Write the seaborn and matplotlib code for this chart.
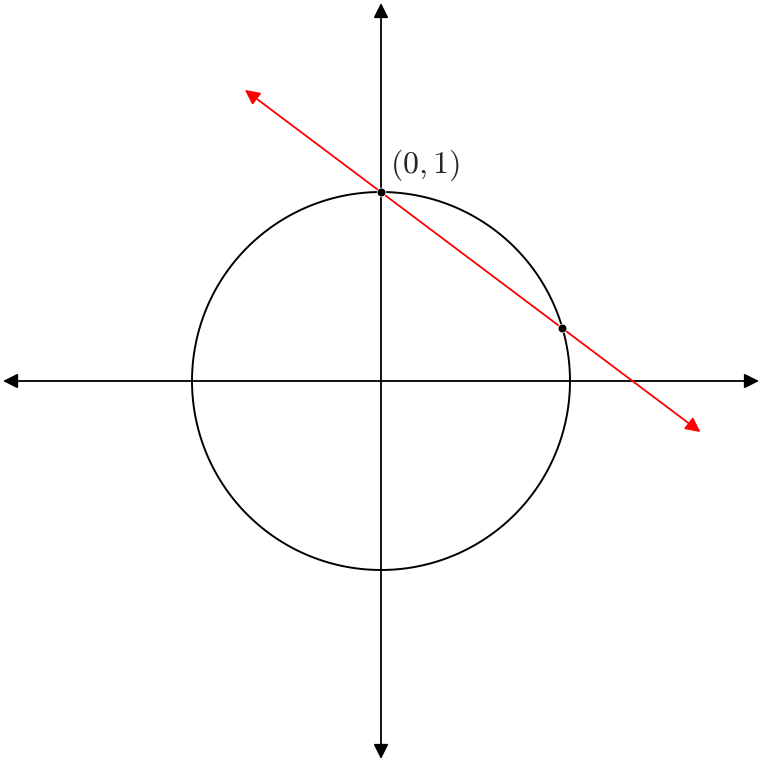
import numpy as np
import pandas as pd
import matplotlib.pyplot as plt
import seaborn as sns

# data (unit circle, secant line through (0,1) with slope -3/4)
point_x = [0.0, 0.96]
point_y = [1.0, 0.28]
line_x = [-0.72, 1.69]
line_y = [1.54, -0.27]
radius = 1.0
axis_extent = 2.0

sns.set_theme(style="white")
plt.rcParams["mathtext.fontset"] = "cm"

fig = plt.figure(figsize=(7.64, 7.64), dpi=100)
ax = fig.add_axes([0, 0, 1, 1])
scale = 189.0
ax.set_xlim(-381 / scale, (764 - 381) / scale)
ax.set_ylim(-(764 - 381) / scale, 381 / scale)
ax.set_aspect("equal")
ax.axis("off")

# axes arrows
head = dict(arrowstyle="<|-|>", color="black", lw=1.3, mutation_scale=22,
            shrinkA=0, shrinkB=0)
ax.annotate("", xy=(axis_extent, 0), xytext=(-axis_extent, 0), arrowprops=head)
ax.annotate("", xy=(0, axis_extent), xytext=(0, -axis_extent), arrowprops=head)

# circle
t = np.linspace(0, 2 * np.pi, 400)
circle = pd.DataFrame({"x": radius * np.cos(t), "y": radius * np.sin(t)})
sns.lineplot(data=circle, x="x", y="y", sort=False, estimator=None,
             color="black", lw=1.4, ax=ax)

# red secant line
red = dict(arrowstyle="<|-|>", color="red", lw=1.3, mutation_scale=22,
           shrinkA=0, shrinkB=0)
ax.annotate("", xy=(line_x[1], line_y[1]), xytext=(line_x[0], line_y[0]),
            arrowprops=red)

# intersection points
sns.scatterplot(x=point_x, y=point_y, color="black", s=40, zorder=5, ax=ax)
ax.text(0.045, 1.05, r"$(0,1)$", fontsize=23, ha="left", va="bottom")

fig.savefig("out.png", dpi=100)
